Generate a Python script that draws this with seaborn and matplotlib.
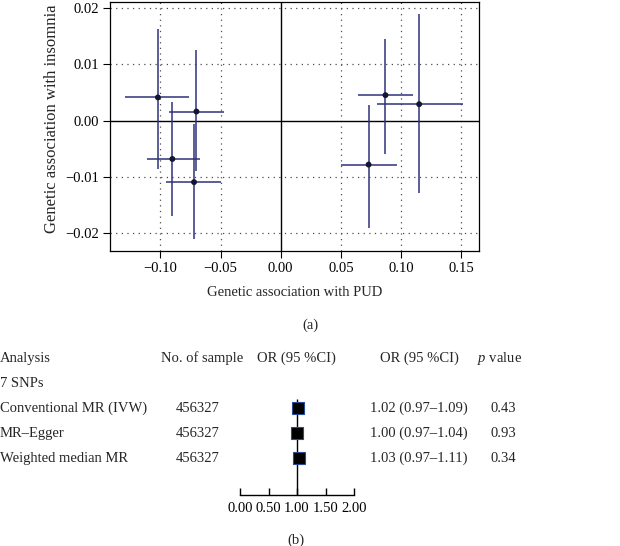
import matplotlib
matplotlib.use("Agg")
import matplotlib.pyplot as plt
import matplotlib.transforms as mtransforms
import seaborn as sns
import pandas as pd

# panel (a): per-SNP genetic associations (estimate, lower, upper)
snp_pud = [-0.102, -0.070, -0.090, -0.072, 0.087, 0.115, 0.073]
snp_pud_lo = [-0.129, -0.093, -0.111, -0.095, 0.064, 0.080, 0.050]
snp_pud_hi = [-0.076, -0.047, -0.067, -0.050, 0.110, 0.151, 0.097]
snp_ins = [0.0041, 0.0016, -0.0068, -0.0109, 0.0045, 0.0029, -0.0078]
snp_ins_lo = [-0.0085, -0.0090, -0.0169, -0.0210, -0.0060, -0.0128, -0.0190]
snp_ins_hi = [0.0163, 0.0125, 0.0033, -0.0006, 0.0144, 0.0188, 0.0027]

x_ticks = [-0.10, -0.05, 0.00, 0.05, 0.10, 0.15]
y_ticks = [-0.02, -0.01, 0.00, 0.01, 0.02]

# panel (b): MR estimates
methods = ["Conventional MR (IVW)", "MR\u2013Egger", "Weighted median MR"]
n_sample = [456327, 456327, 456327]
or_est = [1.02, 1.00, 1.03]
or_lo = [0.97, 0.97, 0.97]
or_hi = [1.09, 1.04, 1.11]
p_vals = [0.43, 0.93, 0.34]
or_ticks = [0.00, 0.50, 1.00, 1.50, 2.00]

BAR_COLOR = "#2f327a"
FS = 10.5


def fmt(v):
    return f"{v:.2f}".replace("-", "\u2212")


sns.set_theme(style="ticks")
plt.rcParams["font.family"] = ["Liberation Serif", "DejaVu Serif"]
plt.rcParams["mathtext.fontset"] = "custom"
plt.rcParams["mathtext.it"] = "Liberation Serif:italic"
plt.rcParams["mathtext.rm"] = "Liberation Serif"

fig = plt.figure(figsize=(6.2, 5.46), dpi=100)

# ---------- panel (a) ----------
ax = fig.add_axes([110 / 620, (546 - 251) / 546, 369 / 620, 249 / 546])
df = pd.DataFrame({"pud": snp_pud, "ins": snp_ins,
                   "pud_lo": snp_pud_lo, "pud_hi": snp_pud_hi,
                   "ins_lo": snp_ins_lo, "ins_hi": snp_ins_hi})

# dotted grid, solid zero lines
for v in x_ticks:
    if v != 0:
        ax.axvline(v, color="0.3", lw=0.9, ls=(0, (1, 3.5)), zorder=0)
for v in y_ticks:
    if v != 0:
        ax.axhline(v, color="0.3", lw=0.9, ls=(0, (1, 3.5)), zorder=0)
ax.axhline(0, color="black", lw=1.0, zorder=1)
ax.axvline(0, color="black", lw=1.0, zorder=1)

ax.errorbar(df["pud"], df["ins"],
            xerr=[df["pud"] - df["pud_lo"], df["pud_hi"] - df["pud"]],
            yerr=[df["ins"] - df["ins_lo"], df["ins_hi"] - df["ins"]],
            fmt="none", ecolor=BAR_COLOR, elinewidth=1.1, capsize=0, zorder=2)
sns.scatterplot(data=df, x="pud", y="ins", color="#15152e", s=18,
                edgecolor="none", ax=ax, zorder=3)

ax.set_xlim(-0.1418, 0.1647)
ax.set_ylim(-0.0231, 0.0210)
ax.set_xticks(x_ticks)
ax.set_xticklabels([fmt(v) for v in x_ticks])
ax.set_yticks(y_ticks)
ax.set_yticklabels([fmt(v) for v in y_ticks])
ax.tick_params(direction="out", length=5, width=0.8, labelsize=FS,
               colors="black", pad=3)
for s in ax.spines.values():
    s.set_color("black")
    s.set_linewidth(0.9)
ax.set_xlabel("Genetic association with PUD", fontsize=FS, labelpad=8)
ax.set_ylabel("Genetic association with insomnia", fontsize=12)
ax.yaxis.set_label_coords(-0.135, 0.53)

fig.text(310 / 620, 1 - 325 / 546, "(a)", ha="center", va="center", fontsize=FS)

# ---------- panel (b) ----------
rows = [2, 3, 4]
axb = fig.add_axes([240 / 620, (546 - 495) / 546, 114 / 620, (495 - 350) / 546])
axb.set_xlim(0, 2)
axb.set_ylim(5.47, -0.33)
axb.patch.set_alpha(0)

axb.vlines(1.0, 1.63, 5.47, color="black", lw=1.0, zorder=1)
axb.hlines(rows, or_lo, or_hi, color="black", lw=1.0, zorder=2)
sns.scatterplot(x=or_est, y=rows, marker="s", s=66, color="black",
                edgecolor="#2a4a9a", linewidth=0.8, ax=axb, zorder=3)

for side in ["top", "left", "right"]:
    axb.spines[side].set_visible(False)
axb.spines["bottom"].set_bounds(0, 2)
axb.spines["bottom"].set_linewidth(1.0)
axb.spines["bottom"].set_color("black")
axb.set_yticks([])
axb.set_xticks(or_ticks)
axb.set_xticklabels([f"{v:.2f}" for v in or_ticks])
axb.tick_params(axis="x", direction="in", length=5, width=1.0,
                labelsize=FS, colors="black", pad=5)
axb.set_xlabel("")
axb.set_ylabel("")

# table columns: x in figure fraction, y follows the forest rows
tr = mtransforms.blended_transform_factory(fig.transFigure, axb.transData)
axb.text(0.0, 0, "Analysis", transform=tr, ha="left", va="center", fontsize=FS)
axb.text(201.7 / 620, 0, "No. of sample", transform=tr, ha="center", va="center", fontsize=FS)
axb.text(296 / 620, 0, "OR (95 %CI)", transform=tr, ha="center", va="center", fontsize=FS)
axb.text(419.7 / 620, 0, "OR (95 %CI)", transform=tr, ha="center", va="center", fontsize=FS)
axb.text(500 / 620, 0, "$p$ value", transform=tr, ha="center", va="center", fontsize=FS)
axb.text(0.0, 1, "7 SNPs", transform=tr, ha="left", va="center", fontsize=FS)
for r, m, n, e, lo, hi, p in zip(rows, methods, n_sample, or_est, or_lo, or_hi, p_vals):
    axb.text(0.0, r, m, transform=tr, ha="left", va="center", fontsize=FS)
    axb.text(197.5 / 620, r, str(n), transform=tr, ha="center", va="center", fontsize=FS)
    axb.text(418.8 / 620, r, f"{e:.2f} ({lo:.2f}\u2013{hi:.2f})", transform=tr,
             ha="center", va="center", fontsize=FS)
    axb.text(503 / 620, r, f"{p:.2f}", transform=tr, ha="center", va="center", fontsize=FS)

fig.text(296 / 620, 1 - 540 / 546, "(b)", ha="center", va="center", fontsize=FS)

fig.savefig("out.png", dpi=100)
